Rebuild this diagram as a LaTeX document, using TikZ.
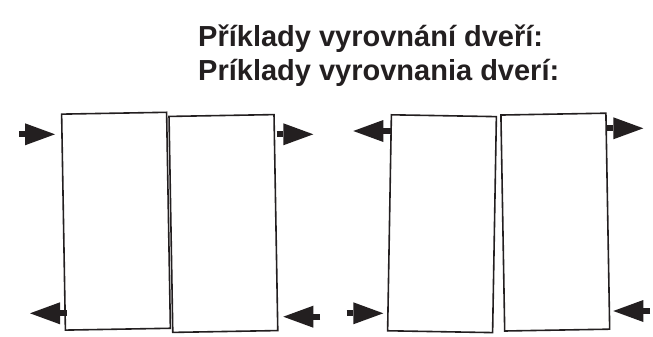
\documentclass[tikz,border=0pt]{standalone}
\usepackage{fontspec}
\setmainfont{Liberation Sans}
\usetikzlibrary{arrows.meta}
\definecolor{DoorInk}{HTML}{231F20}

\begin{document}
\begin{tikzpicture}[
    x=1pt, y=-1pt,
    door/.style={draw=DoorInk, line width=1.6pt, minimum width=105pt, minimum height=216pt, inner sep=0pt},
    push/.style={DoorInk, line width=5.8pt, -{Triangle[length=30pt,width=22pt,line width=0pt]}},
    caption/.style={anchor=base west, inner sep=0pt, text=DoorInk, font=\bfseries\fontsize{29}{34}\selectfont}
  ]
    \useasboundingbox (0,0) rectangle (653,337);

    % heading
    \node[caption] (cz) at (198,46.7) {Příklady vyrovnání dveří:};
    \node[caption] (sk) at (198,81) {Príklady vyrovnania dverí:};

    % left pair
    \node[door, rotate=1] (d1) at (116,221.2) {};
    \node[door, rotate=1] (d2) at (223.4,223.5) {};
    \draw[push] (19,134.3) -- (55,134.3);
    \draw[push] (66.7,313.3) -- (30,313.3);
    \draw[push] (276.7,134.3) -- (313.3,134.3);
    \draw[push] (320,316.7) -- (283.3,316.7);

    % right pair
    \node[door, rotate=-1] (d3) at (442,223.7) {};
    \node[door, rotate=1] (d4) at (555.3,222.1) {};
    \draw[push] (391,131) -- (353.3,131);
    \draw[push] (606,128.3) -- (643.3,128.3);
    \draw[push] (346.7,313.3) -- (383.3,313.3);
    \draw[push] (650,311) -- (613.3,311);
  \end{tikzpicture}
\end{document}
